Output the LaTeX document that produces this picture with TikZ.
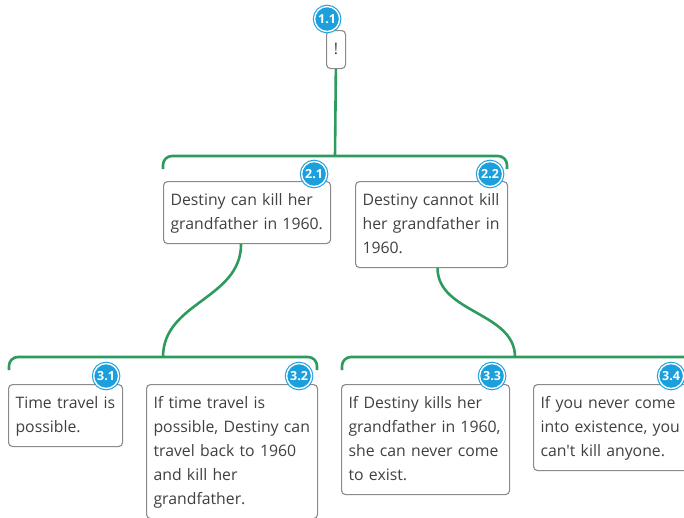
\documentclass[tikz,border=0pt]{standalone}
\usepackage{fontspec}
\newfontfamily\mapfont{Open Sans}
\usepackage{xcolor}

\definecolor{mapgreen}{HTML}{2E9B5E}
\definecolor{badgeblue}{HTML}{1CA0DD}
\definecolor{boxgray}{HTML}{8A8A8A}
\definecolor{textgray}{HTML}{404040}

\begin{document}
\begin{tikzpicture}[x=1pt, y=-1pt,
    claim/.style={draw=boxgray, line width=1.1pt, rounded corners=4pt, fill=white,
      anchor=north west, align=left, inner xsep=7pt, inner ysep=7pt, text=textgray,
      font=\mapfont\fontsize{15.8}{24}\selectfont,
      execute at begin node=\strut, execute at end node=\strut},
    badge/.style={circle, fill=badgeblue, draw=badgeblue, double=white,
      double distance=1.4pt, line width=1.1pt, minimum size=25pt, inner sep=0pt,
      text=white, font=\mapfont\bfseries\fontsize{12.5}{12.5}\selectfont},
    link/.style={draw=mapgreen, line width=2.6pt, rounded corners=9pt}]
          \useasboundingbox (0,0) rectangle (684,517);
          \clip (0,0) rectangle (684,517);

          \node[claim, align=center, inner xsep=5pt, minimum width=19pt] (c11) at (326,30) {!};

          \node[claim, text width=153pt] (c21) at (163,181) {Destiny can kill her\\grandfather in 1960.};
          \node[claim, text width=138pt] (c22) at (355,181) {Destiny cannot kill\\her grandfather in\\1960.};

          \node[claim, text width=100pt] (c31) at (8,384) {Time travel is\\possible.};
          \node[claim, text width=157pt] (c32) at (146,384) {If time travel is\\possible, Destiny can\\travel back to 1960\\and kill her\\grandfather.};
          \node[claim, text width=154pt] (c33) at (341,384) {If Destiny kills her\\grandfather in 1960,\\she can never come\\to exist.};
          \node[claim, text width=142pt] (c34) at (533,384) {If you never come\\into existence, you\\can't kill anyone.};

          \coordinate (top) at (335,156);
          \coordinate (topL) at (163,169);
          \coordinate (topR) at (507,169);
          \coordinate (midA) at (163,357);
          \coordinate (midAL) at (9,370);
          \coordinate (midAR) at (317,370);
          \coordinate (midB) at (515,357);
          \coordinate (midBL) at (342,370);
          \coordinate (midBR) at (700,370);

          \draw[link] (c11) -- (top);
          \draw[link] (topL) |- (top) -| (topR);
          \draw[link] (midAL) |- (midA) -| (midAR);
          \draw[link] (midBL) |- (midB) -| (midBR);
          \draw[link] ([xshift=-6pt]c21.south) .. controls +(0,55) and +(0,-55) .. (midA);
          \draw[link] ([xshift=6pt]c22.south) .. controls +(0,45) and +(0,-45) .. (midB);

          \node[badge] (b11) at ([xshift=-19pt,yshift=11pt]c11.north east) {1.1};
          \node[badge] (b21) at ([xshift=-17pt,yshift=7pt]c21.north east) {2.1};
          \node[badge] (b22) at ([xshift=-18pt,yshift=7pt]c22.north east) {2.2};
          \node[badge] (b31) at ([xshift=-17pt,yshift=8pt]c31.north east) {3.1};
          \node[badge] (b32) at ([xshift=-19pt,yshift=8pt]c32.north east) {3.2};
          \node[badge] (b33) at ([xshift=-18pt,yshift=8pt]c33.north east) {3.3};
          \node[badge] (b34) at ([xshift=-19pt,yshift=8pt]c34.north east) {3.4};
        \end{tikzpicture}
\end{document}
